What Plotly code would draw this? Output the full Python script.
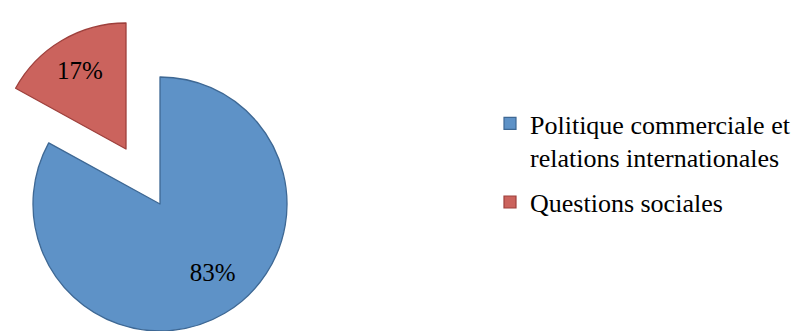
import plotly.graph_objects as go

# Data
labels = ["Politique commerciale et<br>relations internationales", "Questions sociales"]
values = [83, 17]
fill_colors = ["rgb(94,146,199)", "rgb(203,99,93)"]
line_colors = ["rgb(62,104,148)", "rgb(158,64,60)"]

total = sum(values)
pct_text = [f"{v / total * 100:.0f}%" for v in values]
clear = "rgba(0,0,0,0)"

W, H = 799, 331

def dom(cx, cy, r):
    # pie box (pixels) -> paper domain
    return dict(x=[(cx - r) / W, (cx + r) / W], y=[1 - (cy + r) / H, 1 - (cy - r) / H])

BLUE_BOX = dom(160, 204, 127)
RED_BOX = dom(126, 149, 126)

base = dict(labels=labels, values=values, sort=False, direction="clockwise",
            hoverinfo="skip", showlegend=False)

fig = go.Figure()

# legend carriers (tiny, hidden under the main pie), one group per label
for i in range(len(labels)):
    fig.add_trace(go.Pie(
        labels=[labels[i]], values=[values[i]], sort=False,
        marker=dict(colors=[fill_colors[i]], line=dict(color=line_colors[i], width=1.2)),
        textinfo="none", hoverinfo="skip", showlegend=True,
        legendgroup=f"g{i}",
        domain=dict(x=[0.2, 0.2001], y=[0.4, 0.4001]),
    ))

# main (blue) slice
fig.add_trace(go.Pie(
    **base, rotation=0, textinfo="none",
    marker=dict(colors=[fill_colors[0], clear], line=dict(color=[line_colors[0], clear], width=1.3)),
    domain=BLUE_BOX,
))

# exploded (red) slice
fig.add_trace(go.Pie(
    **base, rotation=0, textinfo="none",
    marker=dict(colors=[clear, fill_colors[1]], line=dict(color=[clear, line_colors[1]], width=1.3)),
    domain=RED_BOX,
))

# percentage labels (transparent ring overlays so the text sits further out)
for box, txt, hole, rot in [(BLUE_BOX, [pct_text[0], ""], 0.36, -7),
                            (RED_BOX, ["", pct_text[1]], 0.44, 0)]:
    fig.add_trace(go.Pie(
        **base, rotation=rot, hole=hole, text=txt, textinfo="text", textposition="inside",
        insidetextorientation="horizontal",
        textfont=dict(family="Liberation Serif", size=25, color="black"),
        marker=dict(colors=[clear, clear], line=dict(color=[clear, clear], width=0)),
        domain=box,
    ))

fig.update_layout(
    width=W, height=H,
    margin=dict(l=0, r=0, t=0, b=0),
    paper_bgcolor="white", plot_bgcolor="white",
    showlegend=True,
    legend=dict(
        x=490 / W, xanchor="left", y=1 - 100 / H, yanchor="top",
        font=dict(family="Liberation Serif", size=26, color="black"),
        valign="top", traceorder="grouped", tracegroupgap=8,
        itemclick=False, itemdoubleclick=False,
    ),
)

fig.write_html("out.html")
